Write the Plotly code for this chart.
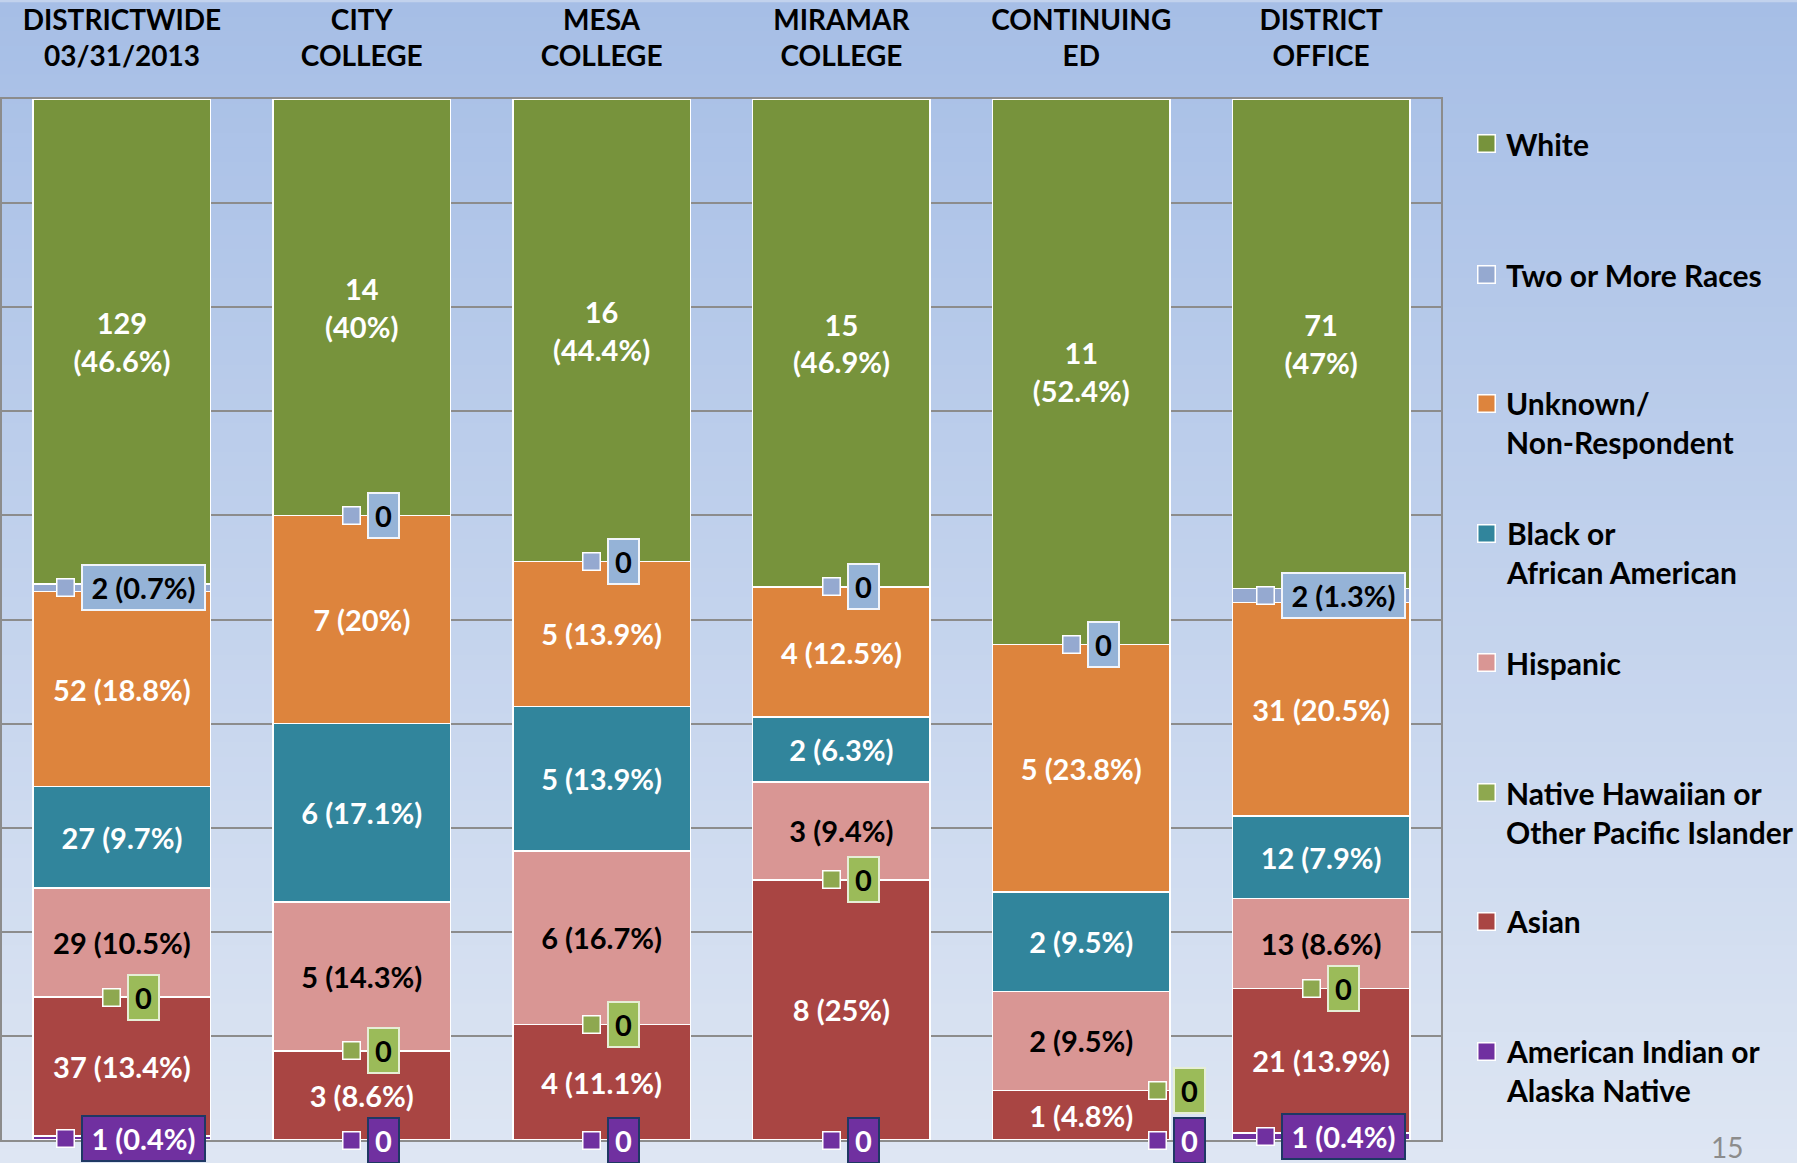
import plotly.graph_objects as go

# ---------------- data ----------------
categories = ["DISTRICTWIDE<br>03/31/2013", "CITY<br>COLLEGE", "MESA<br>COLLEGE",
              "MIRAMAR<br>COLLEGE", "CONTINUING<br>ED", "DISTRICT<br>OFFICE"]

american_indian = [1, 0, 0, 0, 0, 1]
american_indian_pct = [0.4, None, None, None, None, 0.4]
asian = [37, 3, 4, 8, 1, 21]
asian_pct = [13.4, 8.6, 11.1, 25, 4.8, 13.9]
pacific_islander = [0, 0, 0, 0, 0, 0]
pacific_islander_pct = [None, None, None, None, None, None]
hispanic = [29, 5, 6, 3, 2, 13]
hispanic_pct = [10.5, 14.3, 16.7, 9.4, 9.5, 8.6]
black = [27, 6, 5, 2, 2, 12]
black_pct = [9.7, 17.1, 13.9, 6.3, 9.5, 7.9]
unknown = [52, 7, 5, 4, 5, 31]
unknown_pct = [18.8, 20, 13.9, 12.5, 23.8, 20.5]
two_or_more = [2, 0, 0, 0, 0, 2]
two_or_more_pct = [0.7, None, None, None, None, 1.3]
white = [129, 14, 16, 15, 11, 71]
white_pct = [46.6, 40, 44.4, 46.9, 52.4, 47]

series_names = ["American Indian or<br>Alaska Native", "Asian",
                "Native Hawaiian or<br>Other Pacific Islander", "Hispanic",
                "Black or<br>African American", "Unknown/<br>Non-Respondent",
                "Two or More Races", "White"]
series_values = [american_indian, asian, pacific_islander, hispanic, black,
                 unknown, two_or_more, white]
series_pcts = [american_indian_pct, asian_pct, pacific_islander_pct, hispanic_pct,
               black_pct, unknown_pct, two_or_more_pct, white_pct]

# ---------------- style ----------------
FONT = "Lato"
FS = 29
KEY = 16
bar_colors = ["#7030A0", "#A94543", "#8EA84F", "#D99694", "#31859C", "#DD843D",
              "#95A9D0", "#77933C"]
text_colors = [None, "white", None, "black", "white", "white", None, "white"]
inbar = [False, True, False, True, True, True, False, True]
callout_style = {
    0: dict(bg="#7030A0", border="#1F3864", font="white", key="#7030A0"),
    2: dict(bg="#9BBB59", border="#E6EED6", font="black", key="#8EA84F"),
    6: dict(bg="#95B3D7", border="#F2F5FA", font="black", key="#95A9D0"),
}
extra_shift = {0: [0, 0, 0, 0, 86, 0], 2: [0, 0, 0, 0, 86, 0], 6: [0] * 6}

W, H = 1797, 1163
PL, PR, PT, PB = 2, 1441, 97, 1140
PW, PH = PR - PL, PB - PT


def px_x(px):
    return (px - PL) / PW


def px_y(py):
    return (PB - py) / PH


def label(c, p, wrap=False):
    if c == 0:
        return "0"
    return f"{c}" + ("<br>" if wrap else " ") + f"({p:g}%)"


idx = list(range(len(categories)))
totals = [sum(s[i] for s in series_values) for i in idx]

fig = go.Figure()
for k, (name, vals, pcts) in enumerate(zip(series_names, series_values, series_pcts)):
    txt = None
    if inbar[k]:
        txt = [label(v, p, wrap=(k == 7)) for v, p in zip(vals, pcts)]
    fig.add_trace(go.Bar(
        x=idx, y=vals, name=name.replace("<br>", " "),
        marker=dict(color=bar_colors[k], line=dict(color="white", width=1.5)),
        text=txt, textposition="inside" if txt else "none",
        insidetextanchor="middle", textangle=0, constraintext="none",
        insidetextfont=dict(family=FONT, size=FS, color=text_colors[k] or "white", weight=700),
        showlegend=False, hoverinfo="skip",
    ))

annotations = []
# callout labels for small / zero series
for k in (6, 2, 0):
    st = callout_style[k]
    for i in idx:
        below = sum(series_values[j][i] for j in range(k))
        v = series_values[k][i]
        yc = (below + v / 2) / totals[i] * 100
        txt = label(v, series_pcts[k][i])
        zero = v == 0
        box_w = 33 if zero else 125
        cx = 22 + extra_shift[k][i]
        key_x = cx - box_w / 2 - 15.5
        annotations.append(dict(
            x=i, y=yc, xref="x", yref="y", text=txt, showarrow=False,
            xshift=cx, font=dict(family=FONT, size=FS, color=st["font"], weight=700),
            bgcolor=st["bg"], bordercolor=st["border"], borderwidth=2, borderpad=1,
            width=box_w - 6, height=41, align="center", valign="middle",
        ))
        annotations.append(dict(
            x=i, y=yc, xref="x", yref="y", text=" ", showarrow=False,
            xshift=key_x, font=dict(size=4), bgcolor=st["key"], bordercolor="white",
            borderwidth=1.5, borderpad=0, width=KEY, height=KEY,
        ))

# legend (top to bottom)
legend_y = [142, 273, 402, 532, 662, 792, 921, 1051]
for pos, k in enumerate(reversed(range(len(series_names)))):
    yc = legend_y[pos]
    annotations.append(dict(
        x=px_x(1486), y=px_y(yc), xref="paper", yref="paper", text=" ",
        showarrow=False, font=dict(size=4),
        bgcolor=bar_colors[k] if k not in callout_style else callout_style[k]["key"],
        bordercolor="white", borderwidth=1.5, borderpad=0, width=KEY, height=KEY,
        xanchor="center", yanchor="middle",
    ))
    annotations.append(dict(
        x=px_x(1504), y=px_y(yc - 20), xref="paper", yref="paper",
        text=series_names[k], showarrow=False, align="left",
        xanchor="left", yanchor="top",
        font=dict(family=FONT, size=30, color="black", weight=700),
    ))

annotations.append(dict(
    x=px_x(1727), y=px_y(1147), xref="paper", yref="paper", text="15",
    showarrow=False, xanchor="center", yanchor="middle",
    font=dict(family=FONT, size=28, color="#8C8C8C"),
))

# gradient background
shapes = []
top_c = (0xA6, 0xBE, 0xE6)
bot_c = (0xDE, 0xE6, 0xF3)
N = 80
for s in range(N):
    t = (s + 0.5) / N
    c = tuple(round(a + (b - a) * t) for a, b in zip(top_c, bot_c))
    y0 = H * s / N
    y1 = H * (s + 1) / N + 1
    shapes.append(dict(
        type="rect", xref="paper", yref="paper", layer="below",
        x0=px_x(-5), x1=px_x(W + 5), y0=px_y(y1), y1=px_y(y0),
        line=dict(width=0), fillcolor="rgb(%d,%d,%d)" % c,
    ))

fig.update_layout(
    width=W, height=H,
    margin=dict(l=PL, r=W - PR, t=PT, b=H - PB, pad=0),
    barmode="stack", barnorm="percent", bargap=0.26,
    paper_bgcolor="#C2D2ED", plot_bgcolor="rgba(0,0,0,0)",
    annotations=annotations, shapes=shapes,
    xaxis=dict(
        range=[-0.5, 5.5], tickvals=idx, ticktext=categories, side="top",
        ticks="", showgrid=False, zeroline=False, fixedrange=True,
        tickfont=dict(family=FONT, size=28, color="black", weight=700),
        showline=True, mirror=True, linecolor="#8C8C8C", linewidth=1.5,
        ticklabelstandoff=20,
    ),
    yaxis=dict(
        range=[0, 100], dtick=10, showticklabels=False, showgrid=True,
        gridcolor="#8C8C8C", gridwidth=1.5, zeroline=False,
        showline=True, mirror=True, linecolor="#8C8C8C", linewidth=1.5,
    ),
    font=dict(family=FONT),
)

fig.write_html(
    "out.html",
    config={"displayModeBar": False},
    post_script="document.body.style.margin='0';document.body.style.overflow='hidden';",
)
